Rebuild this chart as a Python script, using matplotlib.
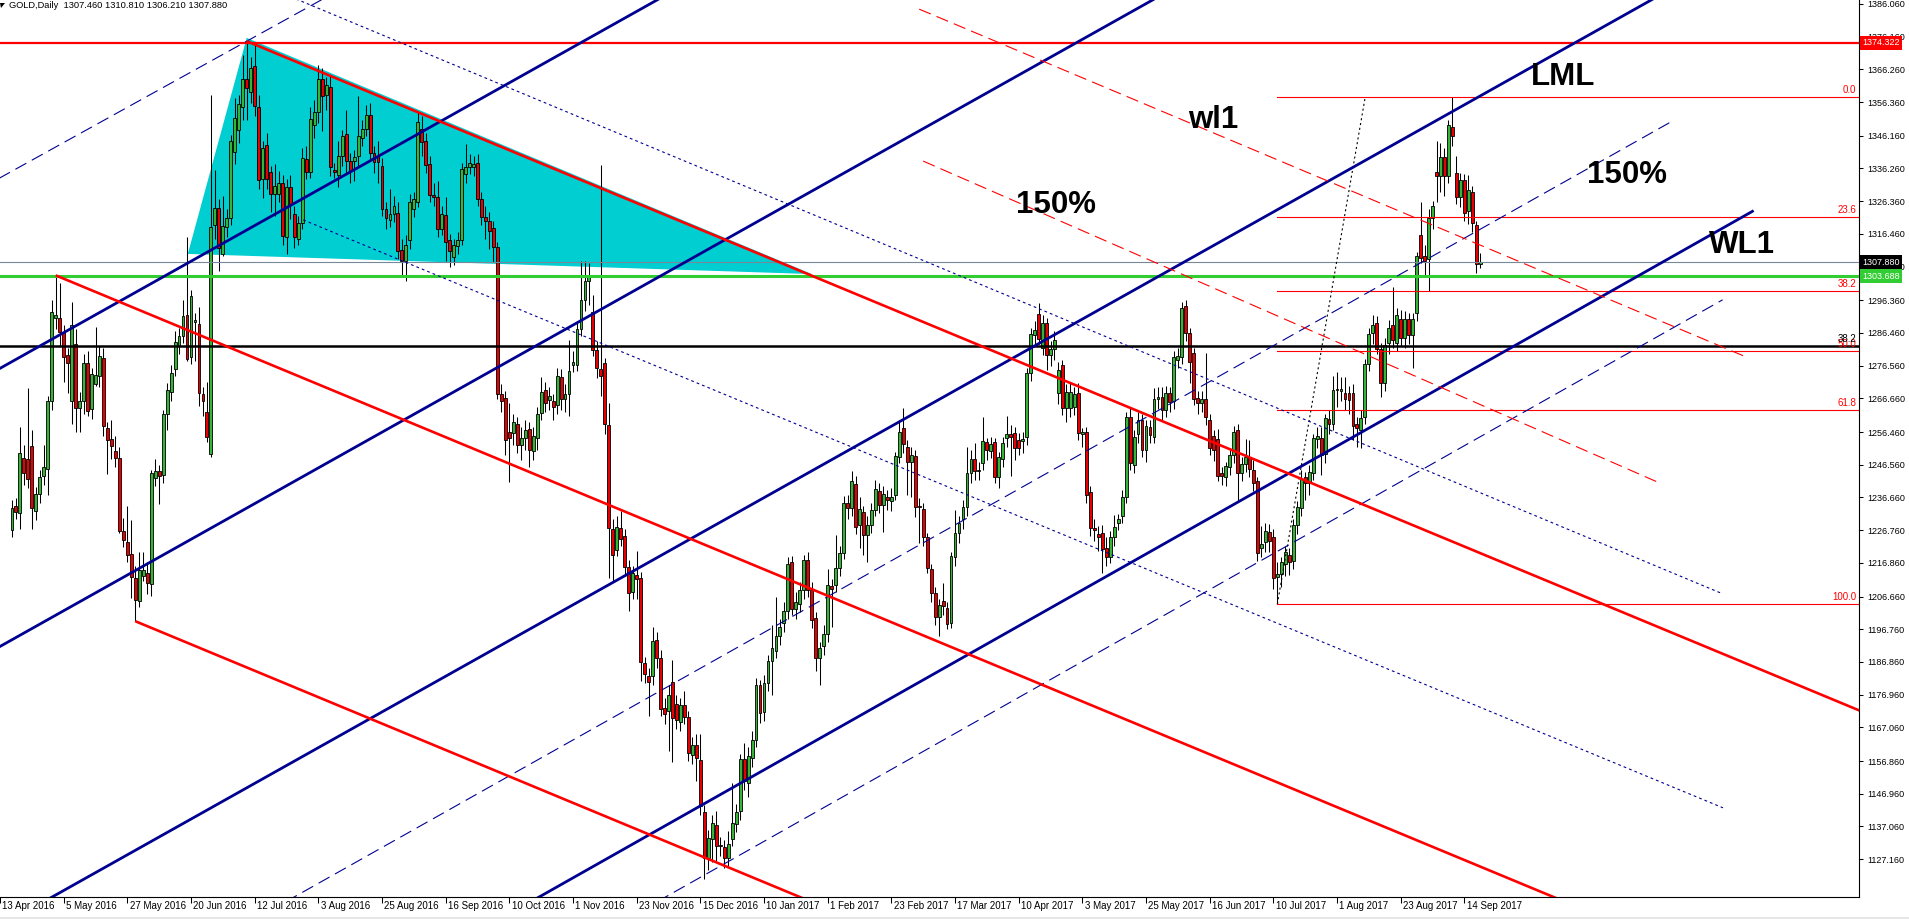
import numpy as np
import matplotlib
matplotlib.use('Agg')
import matplotlib.pyplot as plt
from matplotlib.patches import Polygon, Rectangle
from matplotlib.transforms import blended_transform_factory

plt.rcParams['font.family'] = ['Liberation Sans', 'DejaVu Sans']
plt.rcParams['lines.scale_dashes'] = False

# GOLD daily bars, one entry per bar (bar 0 = 18 Apr 2016)
opens = [
    1226.8, 1234.0, 1231.9, 1248.7, 1248.4, 1252.1, 1232.6, 1237.7, 1243.2, 1245.2,
    1265.8, 1291.0, 1291.1, 1286.7, 1279.7, 1266.0, 1283.2, 1263.7, 1265.8, 1277.4,
    1263.3, 1271.0, 1273.3, 1278.9, 1257.7, 1254.5, 1250.8, 1248.7, 1226.4, 1223.2,
    1219.5, 1212.3, 1205.2, 1213.0, 1213.7, 1210.4, 1242.6, 1244.7, 1243.6, 1261.8,
    1268.7, 1275.7, 1282.6, 1285.5, 1291.9, 1279.1, 1289.8, 1289.3, 1268.1, 1262.6,
    1249.8, 1319.1, 1324.3, 1310.4, 1318.5, 1321.4, 1341.4, 1347.8, 1355.0, 1363.4,
    1359.4, 1367.2, 1355.0, 1333.0, 1343.4, 1335.3, 1328.4, 1328.4, 1331.9, 1315.6,
    1330.7, 1322.4, 1315.0, 1319.7, 1339.0, 1335.1, 1349.5, 1353.3, 1363.4, 1358.5,
    1361.0, 1335.9, 1334.4, 1340.0, 1346.7, 1338.6, 1338.4, 1340.0, 1345.5, 1348.3,
    1352.5, 1340.9, 1340.0, 1337.0, 1324.0, 1320.6, 1322.6, 1322.8, 1311.6, 1308.1,
    1314.5, 1324.0, 1326.1, 1348.3, 1344.6, 1337.6, 1328.2, 1327.6, 1318.0, 1322.2,
    1314.5, 1309.6, 1312.7, 1314.5, 1334.7, 1336.7, 1336.7, 1337.9, 1327.0, 1321.6,
    1320.3, 1318.2, 1312.4, 1268.1, 1266.7, 1256.5, 1256.3, 1258.9, 1252.5, 1254.8,
    1257.5, 1250.8, 1254.8, 1262.1, 1269.3, 1266.3, 1265.8, 1264.7, 1273.0, 1266.4,
    1267.9, 1276.8, 1276.8, 1287.8, 1296.5, 1302.3, 1292.7, 1281.4, 1275.5, 1277.4,
    1258.7, 1227.0, 1220.9, 1227.4, 1224.9, 1215.7, 1208.0, 1213.3, 1212.2, 1186.4,
    1182.6, 1182.6, 1193.6, 1188.2, 1173.0, 1172.0, 1180.7, 1174.1, 1168.8, 1173.8,
    1170.2, 1158.6, 1161.7, 1157.2, 1141.4, 1127.6, 1133.3, 1137.5, 1131.5, 1130.9,
    1127.6, 1133.3, 1137.8, 1141.7, 1157.5, 1150.2, 1157.9, 1163.1, 1179.8, 1171.6,
    1180.5, 1187.1, 1190.3, 1194.6, 1198.8, 1202.3, 1217.1, 1203.0, 1204.5, 1208.7,
    1217.8, 1208.7, 1200.2, 1188.2, 1191.8, 1195.3, 1210.0, 1210.1, 1215.3, 1219.9,
    1234.9, 1233.6, 1240.7, 1228.4, 1232.2, 1225.2, 1228.4, 1233.0, 1238.7, 1234.5,
    1236.8, 1235.5, 1237.5, 1249.0, 1257.6, 1251.8, 1247.5, 1249.2, 1234.1, 1233.1,
    1224.8, 1214.9, 1207.6, 1200.4, 1205.4, 1203.1, 1198.8, 1218.5, 1225.8, 1230.0,
    1233.9, 1244.2, 1248.2, 1244.6, 1247.2, 1253.6, 1250.8, 1253.4, 1242.8, 1248.2,
    1254.6, 1255.9, 1256.1, 1254.1, 1253.8, 1254.9, 1274.2, 1285.9, 1292.2, 1281.8,
    1289.6, 1279.8, 1281.5, 1268.2, 1276.8, 1263.6, 1263.6, 1264.0, 1268.2, 1255.8,
    1256.6, 1238.4, 1227.5, 1225.6, 1225.8, 1221.3, 1218.5, 1224.6, 1228.8, 1230.9,
    1236.7, 1261.1, 1246.5, 1255.9, 1260.1, 1251.0, 1258.1, 1255.1, 1266.5, 1267.0,
    1263.1, 1268.4, 1266.0, 1278.3, 1279.3, 1294.6, 1286.6, 1280.3, 1266.7, 1265.2,
    1266.4, 1260.1, 1255.3, 1254.5, 1244.0, 1242.9, 1245.8, 1249.6, 1257.2, 1244.2,
    1246.8, 1249.0, 1245.0, 1241.6, 1221.3, 1223.3, 1226.3, 1224.6, 1212.7, 1213.4,
    1216.6, 1219.2, 1217.3, 1228.3, 1233.6, 1242.9, 1240.9, 1244.0, 1254.5, 1254.6,
    1249.9, 1260.4, 1258.8, 1269.6, 1268.9, 1268.4, 1268.4, 1268.4, 1258.8, 1257.2,
    1260.9, 1277.0, 1286.4, 1289.5, 1281.7, 1271.3, 1283.3, 1288.8, 1283.3, 1290.6,
    1284.9, 1290.8, 1285.9, 1292.4, 1316.0, 1309.7, 1308.8, 1321.3, 1335.1, 1334.0,
    1339.6, 1334.0, 1348.7, 1334.9, 1327.6, 1332.8, 1323.4, 1329.2, 1319.2, 1307.46,
]
highs = [
    1235.9, 1236.5, 1258.0, 1252.5, 1269.9, 1257.0, 1239.8, 1245.0, 1252.5, 1267.5,
    1296.5, 1303.9, 1301.7, 1289.0, 1282.0, 1295.7, 1287.8, 1268.5, 1280.0, 1280.9,
    1276.0, 1288.4, 1282.6, 1282.0, 1259.5, 1260.0, 1255.3, 1251.9, 1230.5, 1234.2,
    1229.8, 1216.0, 1220.0, 1220.0, 1217.1, 1245.0, 1248.2, 1246.5, 1263.0, 1271.4,
    1276.8, 1287.2, 1288.0, 1296.5, 1315.4, 1299.4, 1292.5, 1294.2, 1270.0, 1271.6,
    1358.5, 1335.9, 1327.0, 1327.8, 1324.0, 1346.5, 1357.6, 1358.5, 1370.7, 1374.7,
    1370.0, 1373.8, 1358.5, 1344.6, 1347.1, 1337.0, 1337.5, 1335.5, 1334.2, 1333.0,
    1334.2, 1325.0, 1322.0, 1342.5, 1343.0, 1355.0, 1357.0, 1367.5, 1366.6, 1364.0,
    1364.3, 1338.0, 1344.6, 1348.0, 1353.9, 1341.0, 1342.0, 1358.3, 1351.0, 1355.6,
    1356.2, 1343.0, 1344.6, 1339.5, 1326.0, 1330.0, 1328.0, 1326.0, 1315.0, 1316.0,
    1328.5, 1329.0, 1353.3, 1352.1, 1347.0, 1340.0, 1332.0, 1332.4, 1325.0, 1327.7,
    1316.5, 1315.0, 1317.0, 1338.0, 1343.7, 1340.5, 1340.0, 1340.5, 1329.0, 1325.0,
    1323.0, 1320.5, 1314.0, 1271.0, 1269.0, 1265.2, 1262.0, 1261.0, 1258.0, 1260.0,
    1259.5, 1258.0, 1264.0, 1273.0, 1271.5, 1270.0, 1268.0, 1276.0, 1275.5, 1271.0,
    1284.3, 1281.0, 1290.0, 1308.1, 1308.1, 1307.5, 1298.0, 1284.0, 1337.4, 1279.0,
    1265.3, 1230.0, 1231.2, 1232.6, 1227.0, 1217.8, 1216.0, 1220.6, 1214.0, 1188.5,
    1185.0, 1197.4, 1196.0, 1190.5, 1176.0, 1179.8, 1187.5, 1177.0, 1176.0, 1178.0,
    1172.0, 1164.0, 1164.9, 1164.9, 1143.5, 1136.0, 1140.5, 1141.7, 1134.0, 1133.0,
    1135.8, 1150.2, 1144.0, 1159.0, 1162.2, 1161.0, 1166.0, 1182.0, 1181.5, 1183.0,
    1189.0, 1198.1, 1206.5, 1200.0, 1205.0, 1218.5, 1219.0, 1208.0, 1211.0, 1219.2,
    1220.0, 1211.0, 1202.0, 1193.0, 1198.0, 1215.0, 1212.0, 1225.2, 1222.0, 1237.0,
    1237.5, 1244.6, 1243.2, 1236.8, 1234.0, 1231.0, 1235.0, 1241.8, 1241.0, 1240.0,
    1239.0, 1239.5, 1250.5, 1260.1, 1263.6, 1254.0, 1252.0, 1251.0, 1236.4, 1235.0,
    1226.0, 1216.5, 1209.5, 1206.0, 1210.9, 1205.0, 1220.0, 1232.9, 1231.0, 1236.0,
    1252.0, 1251.0, 1253.0, 1247.5, 1261.1, 1254.6, 1255.0, 1254.6, 1250.5, 1255.0,
    1261.3, 1258.6, 1258.0, 1256.1, 1256.5, 1276.0, 1288.0, 1290.0, 1295.6, 1292.0,
    1291.0, 1284.0, 1287.0, 1277.8, 1278.3, 1271.0, 1271.5, 1270.0, 1271.2, 1257.6,
    1258.0, 1240.0, 1230.0, 1228.0, 1228.3, 1224.8, 1226.5, 1231.3, 1231.8, 1238.9,
    1262.5, 1263.6, 1257.0, 1262.6, 1262.0, 1260.0, 1260.0, 1269.7, 1270.0, 1270.2,
    1270.5, 1270.2, 1281.0, 1282.0, 1295.9, 1296.3, 1288.0, 1282.0, 1269.0, 1269.0,
    1280.5, 1262.0, 1257.0, 1257.5, 1246.0, 1247.5, 1251.0, 1258.2, 1259.0, 1249.0,
    1254.5, 1254.0, 1248.0, 1243.0, 1228.0, 1229.0, 1228.5, 1227.0, 1217.1, 1218.5,
    1222.0, 1221.5, 1230.0, 1235.5, 1245.0, 1244.5, 1246.5, 1256.0, 1258.0, 1258.0,
    1262.0, 1263.0, 1273.5, 1274.5, 1273.0, 1273.0, 1270.5, 1271.0, 1261.0, 1263.0,
    1278.5, 1288.0, 1292.0, 1291.5, 1283.5, 1285.0, 1290.5, 1300.5, 1294.0, 1293.5,
    1293.0, 1292.5, 1292.5, 1311.0, 1326.0, 1313.0, 1324.0, 1326.5, 1344.5, 1344.0,
    1342.5, 1351.0, 1357.8, 1340.0, 1335.0, 1334.5, 1334.3, 1331.0, 1320.5, 1310.81,
]
lows = [
    1224.7, 1230.0, 1227.2, 1240.5, 1239.5, 1227.0, 1229.9, 1235.0, 1240.5, 1237.4,
    1263.0, 1287.8, 1282.6, 1271.6, 1268.4, 1259.0, 1256.5, 1256.5, 1262.0, 1261.2,
    1260.5, 1270.4, 1270.0, 1255.4, 1243.8, 1248.4, 1246.0, 1226.0, 1221.8, 1217.1,
    1206.1, 1199.2, 1203.5, 1211.5, 1207.3, 1206.7, 1240.0, 1234.6, 1241.0, 1257.1,
    1266.0, 1273.3, 1280.0, 1283.5, 1278.0, 1277.0, 1278.0, 1264.4, 1261.2, 1253.6,
    1249.0, 1315.0, 1305.2, 1309.8, 1315.5, 1319.0, 1337.6, 1344.0, 1351.0, 1351.0,
    1356.0, 1352.1, 1330.0, 1327.2, 1330.0, 1323.2, 1322.0, 1326.0, 1313.0, 1310.4,
    1321.0, 1312.2, 1313.0, 1318.0, 1333.0, 1333.5, 1345.5, 1350.0, 1347.5, 1354.0,
    1334.0, 1333.5, 1330.7, 1337.0, 1334.8, 1332.0, 1332.5, 1337.0, 1343.0, 1346.0,
    1339.0, 1335.0, 1331.8, 1322.0, 1318.0, 1318.5, 1320.0, 1309.0, 1304.0, 1302.3,
    1312.0, 1321.5, 1324.6, 1340.0, 1335.0, 1326.0, 1325.0, 1315.5, 1316.0, 1308.1,
    1306.4, 1307.0, 1310.5, 1313.0, 1332.0, 1334.5, 1334.0, 1325.0, 1319.0, 1315.0,
    1312.0, 1308.0, 1266.5, 1262.5, 1249.6, 1241.3, 1252.5, 1250.0, 1248.0, 1251.0,
    1245.9, 1248.0, 1251.0, 1260.0, 1262.5, 1263.0, 1260.0, 1262.0, 1263.0, 1262.5,
    1261.2, 1274.5, 1275.0, 1285.5, 1293.0, 1294.8, 1279.5, 1272.8, 1267.5, 1256.0,
    1212.2, 1211.5, 1219.0, 1222.0, 1213.0, 1202.3, 1206.0, 1205.9, 1181.2, 1180.5,
    1170.6, 1180.0, 1185.0, 1170.6, 1168.0, 1160.0, 1156.5, 1166.5, 1166.0, 1168.0,
    1157.0, 1156.0, 1150.9, 1140.5, 1121.3, 1124.0, 1126.2, 1126.2, 1128.0, 1124.5,
    1125.0, 1131.0, 1135.5, 1139.0, 1148.0, 1145.9, 1155.0, 1161.0, 1168.5, 1169.0,
    1178.0, 1177.0, 1188.0, 1192.0, 1196.0, 1200.0, 1201.0, 1200.0, 1202.0, 1206.0,
    1206.5, 1197.0, 1184.0, 1180.0, 1189.0, 1193.0, 1197.4, 1208.0, 1213.0, 1218.0,
    1230.0, 1231.0, 1225.5, 1221.4, 1219.2, 1217.1, 1226.0, 1231.0, 1232.0, 1226.3,
    1233.0, 1232.5, 1236.0, 1247.0, 1250.0, 1237.4, 1236.9, 1230.8, 1222.8, 1222.0,
    1213.7, 1205.0, 1198.0, 1194.7, 1201.0, 1196.7, 1197.0, 1216.0, 1223.0, 1227.0,
    1231.0, 1241.0, 1242.0, 1242.0, 1245.0, 1248.0, 1248.5, 1240.9, 1239.4, 1246.0,
    1252.0, 1243.2, 1248.0, 1249.5, 1250.0, 1252.5, 1272.0, 1283.0, 1283.0, 1279.8,
    1275.3, 1276.5, 1278.3, 1265.0, 1261.6, 1259.6, 1261.0, 1261.5, 1254.0, 1252.0,
    1235.0, 1225.0, 1223.5, 1220.5, 1213.9, 1216.0, 1216.7, 1222.0, 1226.8, 1229.0,
    1235.0, 1245.0, 1244.0, 1253.0, 1249.0, 1247.5, 1253.0, 1253.0, 1263.5, 1260.1,
    1261.0, 1262.5, 1263.5, 1276.0, 1277.0, 1284.0, 1271.2, 1264.7, 1262.0, 1262.5,
    1258.5, 1249.5, 1247.8, 1241.5, 1240.5, 1240.0, 1243.5, 1247.0, 1235.3, 1241.5,
    1244.5, 1243.0, 1238.5, 1217.5, 1218.5, 1220.0, 1220.0, 1209.0, 1204.4, 1209.5,
    1213.0, 1213.3, 1215.0, 1225.5, 1231.0, 1236.0, 1237.5, 1242.0, 1251.5, 1243.5,
    1247.0, 1256.0, 1257.0, 1264.0, 1266.0, 1263.0, 1262.0, 1254.0, 1252.0, 1251.5,
    1259.0, 1275.0, 1283.0, 1280.0, 1267.0, 1269.0, 1280.0, 1282.0, 1281.0, 1282.5,
    1282.0, 1283.0, 1276.0, 1290.0, 1307.5, 1304.0, 1299.2, 1318.0, 1326.0, 1329.0,
    1328.0, 1332.0, 1343.0, 1325.5, 1324.5, 1320.5, 1319.5, 1317.0, 1304.5, 1306.21,
]
closes = [
    1233.6, 1232.4, 1250.2, 1244.0, 1242.4, 1233.4, 1237.7, 1242.9, 1245.8, 1265.8,
    1292.7, 1291.8, 1286.7, 1279.1, 1277.4, 1289.0, 1263.7, 1266.0, 1277.4, 1262.9,
    1273.9, 1273.6, 1279.4, 1258.3, 1254.0, 1252.1, 1248.7, 1226.4, 1223.8, 1219.2,
    1212.5, 1205.6, 1214.8, 1214.8, 1210.8, 1244.0, 1244.7, 1243.2, 1261.8, 1269.1,
    1274.2, 1283.8, 1285.5, 1291.5, 1278.6, 1297.7, 1290.4, 1268.4, 1265.8, 1255.1,
    1318.5, 1324.3, 1312.2, 1318.9, 1321.4, 1344.6, 1351.5, 1355.8, 1363.4, 1360.6,
    1366.8, 1355.3, 1332.8, 1342.5, 1333.0, 1328.4, 1330.9, 1331.9, 1315.9, 1330.7,
    1325.5, 1315.6, 1319.9, 1339.3, 1335.3, 1351.2, 1353.3, 1363.4, 1358.2, 1361.4,
    1336.7, 1335.1, 1340.0, 1346.0, 1338.6, 1335.6, 1339.6, 1346.0, 1348.3, 1352.5,
    1340.9, 1338.2, 1338.2, 1324.0, 1321.2, 1322.6, 1325.0, 1311.2, 1308.1, 1313.1,
    1326.1, 1326.9, 1350.4, 1344.4, 1337.4, 1328.2, 1327.6, 1318.0, 1322.4, 1313.9,
    1311.2, 1313.1, 1314.7, 1336.2, 1336.7, 1337.9, 1337.6, 1327.0, 1321.6, 1320.5,
    1317.4, 1312.4, 1268.1, 1266.0, 1254.0, 1254.8, 1259.4, 1252.5, 1254.8, 1257.1,
    1251.0, 1255.4, 1261.8, 1268.7, 1265.2, 1267.5, 1264.0, 1273.3, 1266.4, 1268.0,
    1274.8, 1277.8, 1287.8, 1296.5, 1302.3, 1304.0, 1281.4, 1276.0, 1273.5, 1258.9,
    1227.4, 1219.2, 1227.7, 1224.2, 1215.7, 1207.7, 1213.9, 1211.9, 1186.8, 1183.3,
    1180.9, 1193.2, 1188.2, 1172.7, 1171.0, 1176.9, 1169.9, 1169.2, 1173.7, 1170.2,
    1159.3, 1161.7, 1157.9, 1143.1, 1127.6, 1133.5, 1138.2, 1131.2, 1131.0, 1127.6,
    1131.6, 1138.2, 1141.4, 1157.5, 1150.9, 1158.3, 1163.1, 1179.8, 1171.3, 1180.5,
    1187.1, 1191.1, 1194.6, 1197.4, 1202.3, 1216.4, 1203.0, 1205.0, 1208.7, 1217.8,
    1208.7, 1199.5, 1188.2, 1191.0, 1195.3, 1210.1, 1209.0, 1215.3, 1219.9, 1235.0,
    1233.5, 1241.5, 1227.7, 1233.3, 1225.2, 1228.4, 1233.0, 1239.3, 1234.5, 1237.6,
    1235.8, 1236.9, 1249.2, 1256.6, 1252.8, 1247.5, 1249.5, 1233.9, 1233.9, 1224.8,
    1215.2, 1207.6, 1200.4, 1204.1, 1203.8, 1198.3, 1218.9, 1225.8, 1228.8, 1233.9,
    1244.2, 1248.2, 1244.8, 1245.0, 1253.9, 1251.0, 1252.9, 1242.8, 1248.8, 1253.3,
    1255.9, 1255.1, 1251.5, 1251.5, 1254.5, 1274.2, 1286.2, 1287.4, 1284.5, 1289.6,
    1279.8, 1281.5, 1284.3, 1275.3, 1263.6, 1268.7, 1268.7, 1268.0, 1256.3, 1256.6,
    1237.4, 1227.3, 1226.7, 1224.8, 1221.0, 1218.5, 1224.6, 1227.8, 1230.0, 1236.7,
    1261.1, 1247.0, 1255.1, 1260.1, 1251.0, 1258.3, 1255.6, 1266.4, 1267.0, 1263.0,
    1268.4, 1265.7, 1279.1, 1279.5, 1293.9, 1286.6, 1277.8, 1266.4, 1265.2, 1266.4,
    1260.9, 1251.5, 1251.0, 1243.2, 1243.2, 1246.1, 1249.6, 1256.5, 1244.2, 1246.8,
    1248.9, 1245.2, 1240.9, 1219.7, 1222.5, 1226.5, 1223.5, 1212.4, 1213.4, 1217.1,
    1220.0, 1217.1, 1228.3, 1233.8, 1242.3, 1240.9, 1244.4, 1254.6, 1255.2, 1249.6,
    1260.7, 1258.8, 1269.2, 1269.2, 1269.4, 1266.6, 1266.3, 1258.3, 1257.8, 1260.7,
    1277.0, 1286.1, 1288.8, 1281.7, 1271.3, 1282.8, 1288.0, 1284.3, 1291.9, 1284.9,
    1290.8, 1285.9, 1290.8, 1309.7, 1309.3, 1308.3, 1321.3, 1324.8, 1333.9, 1339.6,
    1334.0, 1349.5, 1346.2, 1327.6, 1332.8, 1322.9, 1329.7, 1319.8, 1307.3, 1307.88,
]
assert len(opens) == len(highs) == len(lows) == len(closes) == 370

# axis labels
price_ticks = [1386.060, 1376.160, 1366.260, 1356.360, 1346.160, 1336.260, 1326.360,
               1316.460, 1306.560, 1296.360, 1286.460, 1276.560, 1266.660, 1256.460,
               1246.560, 1236.660, 1226.760, 1216.860, 1206.660, 1196.760, 1186.860,
               1176.960, 1167.060, 1156.860, 1146.960, 1137.060, 1127.160]
date_labels = ['13 Apr 2016', '5 May 2016', '27 May 2016', '20 Jun 2016', '12 Jul 2016',
               '3 Aug 2016', '25 Aug 2016', '16 Sep 2016', '10 Oct 2016', '1 Nov 2016',
               '23 Nov 2016', '15 Dec 2016', '10 Jan 2017', '1 Feb 2017', '23 Feb 2017',
               '17 Mar 2017', '10 Apr 2017', '3 May 2017', '25 May 2017', '16 Jun 2017',
               '10 Jul 2017', '1 Aug 2017', '23 Aug 2017', '14 Sep 2017']
date_bars = [-3, 13, 29, 45, 61, 77, 93, 109, 125, 141, 157, 173, 189, 205, 221,
             237, 253, 269, 285, 301, 317, 333, 349, 365]

# horizontal levels
level_high = 1374.322
level_support = 1303.688
last_price = 1307.880
black_level = 1282.6
fib_low, fib_high = 1204.4, 1357.8
fib_ratios = [0.0, 23.6, 38.2, 50.0, 61.8, 100.0]
fib_start = 318

# drawn trend objects: (bar1, price1, bar2, price2)
blue_thick = [(-5, 1274.4, 170, 1392.6), (-5, 1190.2, 300, 1396.3),
              (-5, 1105.5, 420, 1392.7), (120, 1107.2, 437.7, 1323.5)]
blue_dash = [(-5, 1332.1, 80, 1388.8), (60, 1108.3, 417.1, 1350.5),
             (150, 1106.0, 429.9, 1296.5)]
red_thick = [(59, 1374.8, 470, 1169.3), (11, 1303.9, 420, 1099.4),
             (31, 1199.2, 220, 1104.7)]
blue_dot = [(60, 1393.3, 429.9, 1207.5), (73.2, 1320.7, 430, 1142.7)]
red_dash = [(228.0, 1384.5, 436.4, 1278.9), (229.0, 1338.5, 413.4, 1241.4)]
fib_diag = (318, 1204.4, 340.1, 1358.0)
triangle = [(44.2, 1310.4), (59, 1375.8), (201, 1304.3)]

notes = [('LML', 381.7, 1361.5), ('150%', 395.7, 1331.9), ('WL1', 426.4, 1310.7),
         ('wl1', 295.6, 1348.5), ('150%', 252.2, 1322.8)]

W, H = 1909, 919
fig = plt.figure(figsize=(W / 100, H / 100), dpi=100)
ax = fig.add_axes([0, 22 / H, 1859 / W, 897 / H])
ax.set_xlim(-0.575, 464.175)
ax.set_ylim(1115.70, 1387.27)

NAVY = '#000090'
RED = '#ff0000'

# filled triangle sits behind the bars
ax.add_patch(Polygon(triangle, closed=True, facecolor='#00ced1', edgecolor='none', zorder=1))

# candles
o = np.array(opens)
h = np.array(highs)
l = np.array(lows)
c = np.array(closes)
x = np.arange(len(o))
up = c >= o
ax.vlines(x, l, h, color='black', lw=0.75, zorder=2)
bottom = np.minimum(o, c)
height = np.maximum(np.abs(c - o), 0.3)
ax.bar(x[up], height[up], bottom=bottom[up], width=0.72, color='#36b436',
       edgecolor='black', linewidth=0.6, zorder=2.5)
ax.bar(x[~up], height[~up], bottom=bottom[~up], width=0.72, color='#e80000',
       edgecolor='black', linewidth=0.6, zorder=2.5)

# horizontal lines
ax.axhline(level_high, color=RED, lw=1.6, zorder=4)
ax.axhline(last_price, color='#778899', lw=0.8, zorder=4)
ax.axhline(level_support, color='#32cd32', lw=2.2, zorder=4)
ax.axhline(black_level, color='black', lw=1.8, zorder=4)

# fibonacci levels
for r in fib_ratios:
    p = fib_high - r / 100 * (fib_high - fib_low)
    ax.plot([fib_start, 470], [p, p], color=RED, lw=0.8, zorder=4)
    ax.text(1 - 3 / 1859, p + 0.6, '%.1f' % r, transform=blended_transform_factory(ax.transAxes, ax.transData),
            ha='right', va='bottom', fontsize=7, color=RED, zorder=6)
ax.text(1 - 3 / 1859, black_level + 0.6, '38.2', transform=blended_transform_factory(ax.transAxes, ax.transData),
        ha='right', va='bottom', fontsize=7, color='black', zorder=6)
ax.plot(fib_diag[0::2], fib_diag[1::2], color='black', lw=0.8, dashes=(1.5, 2), zorder=4)

# pitchfork style lines
for k1, p1, k2, p2 in blue_thick:
    ax.plot([k1, k2], [p1, p2], color=NAVY, lw=2.0, zorder=4, solid_capstyle='butt')
for k1, p1, k2, p2 in blue_dash:
    ax.plot([k1, k2], [p1, p2], color=NAVY, lw=0.8, dashes=(9, 4.5), zorder=4)
for k1, p1, k2, p2 in blue_dot:
    ax.plot([k1, k2], [p1, p2], color=NAVY, lw=0.8, dashes=(2, 2.2), zorder=4)
for k1, p1, k2, p2 in red_thick:
    ax.plot([k1, k2], [p1, p2], color=RED, lw=1.9, zorder=4, solid_capstyle='butt')
for k1, p1, k2, p2 in red_dash:
    ax.plot([k1, k2], [p1, p2], color=RED, lw=0.8, dashes=(9, 4.5), zorder=4)

for txt, k, p in notes:
    ax.text(k, p, txt, fontsize=22.5, fontweight='bold', color='black',
            ha='left', va='baseline', zorder=7)

# axes look
for s in ['left', 'top']:
    ax.spines[s].set_visible(False)
for s in ['right', 'bottom']:
    ax.spines[s].set_linewidth(0.8)
    ax.spines[s].set_color('black')
ax.yaxis.tick_right()
ax.set_yticks(price_ticks)
ax.set_yticklabels(['%.3f' % v for v in price_ticks])
ax.tick_params(axis='y', direction='out', length=3, width=0.75, pad=3, labelsize=6.5)
ax.set_xticks(date_bars)
ax.tick_params(axis='x', direction='out', length=4, width=0.75, labelbottom=False)
tx = blended_transform_factory(ax.transData, ax.transAxes)
for k, lab in zip(date_bars, date_labels):
    ax.text(k + 0.6, -4 / 897, lab, transform=tx, ha='left', va='top', fontsize=7, clip_on=False)

# price boxes on the right scale
ty = blended_transform_factory(ax.transAxes, ax.transData)
for p, fc in [(level_high, RED), (last_price, 'black'), (level_support, '#32cd32')]:
    ax.text(1 + 3 / 1859, p, '%.3f' % p, transform=ty, ha='left', va='center', fontsize=6.5,
            color='white', clip_on=False, zorder=8,
            bbox=dict(boxstyle='square,pad=0.25', facecolor=fc, edgecolor='none'))

# header
fig.text(9 / W, 1 - 1.5 / H, 'GOLD,Daily  1307.460 1310.810 1306.210 1307.880',
         fontsize=6.7, ha='left', va='top')
fig.add_artist(Polygon([(0 / W, 1 - 3 / H), (5 / W, 1 - 3 / H), (1 / W, 1 - 8 / H)],
                       closed=True, transform=fig.transFigure, facecolor='black', edgecolor='none'))
fig.add_artist(Rectangle((0, 0), 1, 2 / H, transform=fig.transFigure, facecolor='#e6e6e6', edgecolor='none'))

fig.savefig('out.png', dpi=100)
